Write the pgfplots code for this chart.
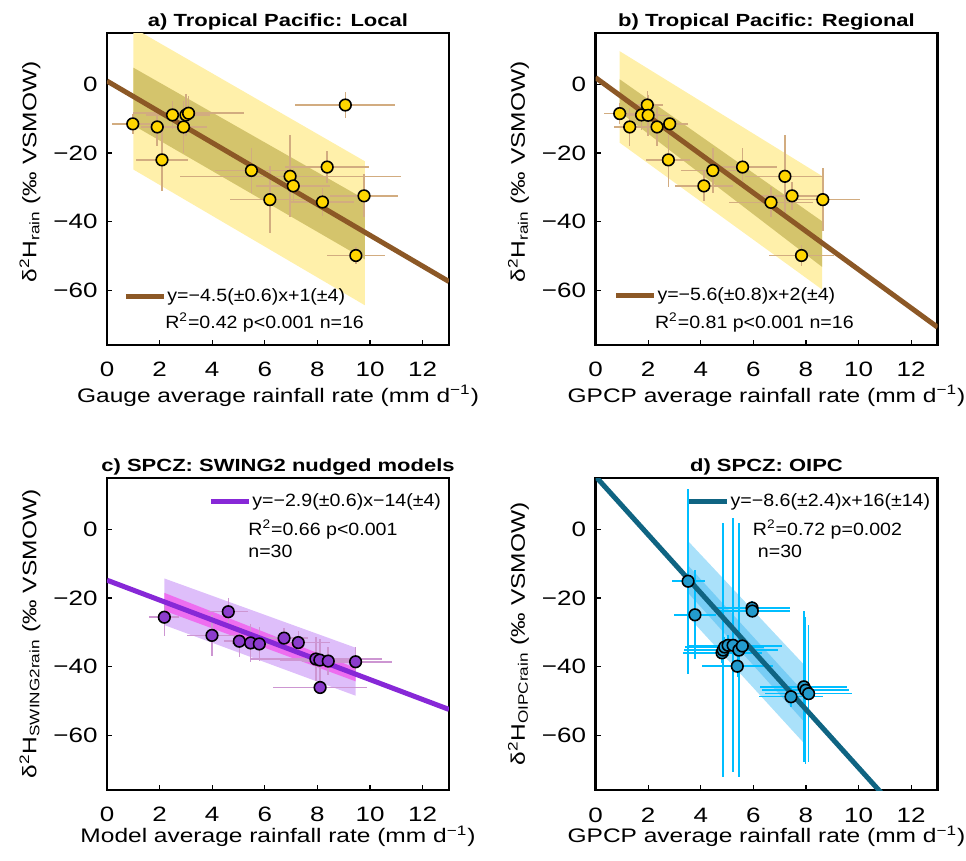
\documentclass[border=0pt]{standalone}
\usepackage{pgfplots}
\pgfplotsset{compat=1.18}
\usepackage{pgfplotstable}
\usepackage{fontspec}
\setmainfont{Liberation Sans}
\newfontfamily\wide[FakeStretch=1.25]{Liberation Sans}
\newfontfamily\wideleg[FakeStretch=1.1]{Liberation Sans}
\newcommand{\tickfont}{\wide\fontsize{10.4}{12}\selectfont}
\newcommand{\labfont}{\wide\fontsize{9.8}{12}\selectfont}
\newcommand{\titfont}{\wide\bfseries\fontsize{8.8}{11}\selectfont}
\newcommand{\legfont}{\wideleg\fontsize{8.9}{11}\selectfont}
\definecolor{brownline}{RGB}{140,88,38}
\definecolor{lightyel}{RGB}{255,240,170}
\definecolor{darkyel}{RGB}{212,196,108}
\definecolor{goldpt}{RGB}{255,214,0}
\definecolor{tanerr}{RGB}{210,172,128}
\definecolor{purpline}{RGB}{135,40,215}
\definecolor{purppt}{RGB}{140,60,205}
\definecolor{lavband}{RGB}{222,190,250}
\definecolor{magband}{RGB}{238,110,240}
\definecolor{purperr}{RGB}{205,150,210}
\definecolor{tealline}{RGB}{15,100,130}
\definecolor{bluept}{RGB}{35,155,205}
\definecolor{lightcyan}{RGB}{170,225,250}
\definecolor{midcyan}{RGB}{120,205,245}
\definecolor{cyanerr}{RGB}{0,190,255}

\pgfplotstableread{
x y ex ey
0.98 -11.5 0.8 3
1.91 -12.4 0.6 5.5
2.49 -8.9 1.0 4
3.00 -8.9 0.9 6
3.10 -8.4 2.1 5
2.91 -12.4 0.9 7.5
2.09 -22.0 1.0 9
9.06 -6.0 1.9 3.9
5.49 -25.1 1.4 6.5
6.96 -26.8 4.2 12
7.08 -29.6 1.4 5
8.37 -24.1 1.6 4.6
6.19 -33.6 1.5 9.7
8.19 -34.3 1.2 4
9.77 -32.5 1.3 6.3
9.46 -49.9 1.1 2.6
}\dataA
\pgfplotstableread{
x y ex ey
0.92 -8.5 0.6 3
1.30 -12.4 0.6 5.5
1.75 -8.9 0.7 4.5
1.97 -6.0 0.6 4
2.00 -9.0 0.8 6
2.34 -12.4 0.5 5.5
2.82 -11.5 0.7 2
2.77 -22.0 0.84 8
4.46 -25.1 1.2 6.5
4.12 -29.6 1.1 4.4
5.59 -24.1 1.3 5.6
7.20 -26.8 1.5 12
7.47 -32.5 1.3 4
6.67 -34.4 1.6 4.4
8.64 -33.6 1.4 9.2
7.83 -49.9 1.25 3
}\dataB
\pgfplotstableread{
x y ex ey
2.18 -25.6 0.57 5.4
4.61 -24.0 0.76 4.1
3.99 -30.9 0.95 5.9
5.03 -32.6 0.6 4.5
5.46 -33.1 0.7 5.5
5.79 -33.4 0.7 5.0
6.73 -31.7 0.9 3
7.27 -33.0 1.2 3.5
7.94 -37.8 2.5 6.4
8.09 -38.1 1.5 6
8.41 -38.4 1.0 4
9.45 -38.6 1.4 4.2
8.10 -46.1 1.8 2
}\dataC
\pgfplotstableread{
x y ex ey
3.52 -15.1 0.63 27
3.78 -24.9 0.8 13
5.95 -22.9 1.45 2
5.96 -23.8 1.45 2
4.81 -36.0 1.5 3
4.85 -35.2 1.5 37
4.91 -34.3 1.5 3
5.04 -33.8 1.5 3
5.23 -33.8 1.5 37
5.45 -35.2 1.5 37
5.58 -34.0 1.5 3
5.39 -39.9 1.35 3
7.43 -48.8 1.2 3
7.92 -45.9 1.65 22
7.99 -46.9 1.65 21.5
8.10 -47.9 1.65 20
}\dataD

\pgfplotsset{
 myaxis/.style={
  scale only axis, width=171pt, height=156pt,
  xmin=0, xmax=13, ymin=-76, ymax=15,
  axis line style={line width=1.3pt, line cap=rect},
  xtick={0,2,...,12}, ytick={-60,-40,-20,0},
  xticklabels={0,2,4,6,8,10,12},
  yticklabels={−60,−40,−20,0},
  tick align=inside, xtick pos=left, ytick pos=left,
  major tick length=2.5pt, tick style={line width=0.6pt, black},
  every tick label/.append style={font=\tickfont},
  xticklabel style={inner sep=0pt, anchor=base},
  yticklabel style={inner sep=0pt, anchor=east},
  xticklabel shift=16pt, yticklabel shift=4.5pt,
  every axis x label/.style={at={(axis description cs:0.5,-0.183)}, anchor=base, font=\labfont},
  every axis y label/.style={at={(axis description cs:-0.225,0.5)}, rotate=90, anchor=center, font=\labfont},
  title style={font=\titfont, at={(axis description cs:0.5,1)}, anchor=base, yshift=-2.5pt},
  legend style={draw=none, fill=none, inner sep=0pt, anchor=west, font=\legfont, nodes={inner sep=0.5pt}},
  legend image code/.code={\draw[##1] (0pt,0pt) -- (19pt,0pt);},
 },
 errs/.style={draw=none, mark=none, forget plot, error bars/.cd, x dir=both, x explicit, y dir=both, y explicit, error mark=none, error bar style={#1, line width=0.75pt}},
 pts/.style={only marks, mark=*, mark size=2.9pt, forget plot, mark options={fill=#1, draw=black, line width=0.8pt}},
}

\begin{document}
\begin{tikzpicture}
\path[use as bounding box] (0,0) rectangle (483pt,-430.5pt);

% a
\begin{axis}[myaxis, at={(53.5pt,-172.5pt)}, anchor=south west,
  title={a) Tropical Pacific: Local},
  xlabel={Gauge average rainfall rate (mm d\textsuperscript{−1})},
  ylabel={δ\textsuperscript{2}H\textsubscript{rain} (‰ VSMOW)},
  ylabel style={at={(axis description cs:-0.225,0.555)}},
  legend style={at={(axis cs:0.61,-61.8)}}]
\addplot[fill=lightyel, draw=none, forget plot] coordinates {(1,16.5) (9.8,-22.4) (9.8,-64.4) (1,-24.8)} -- cycle;
\addplot[fill=darkyel, draw=none, forget plot] coordinates {(1,4.9) (9.8,-33.5) (9.8,-51) (1,-11.9)} -- cycle;
\addplot[errs=tanerr] table[x=x,y=y,x error=ex,y error=ey] {\dataA};
\addplot[brownline, line width=2.5pt] coordinates {(0,1) (13,-57.5)};
\addlegendentry{y=−4.5(±0.6)x+1(±4)}
\addplot[pts=goldpt] table[x=x,y=y] {\dataA};
\node[anchor=west, font=\legfont, inner sep=0pt] at (axis cs:2.2,-69.4) {R\textsuperscript{2}=0.42 p<0.001 n=16};
\end{axis}

% b
\begin{axis}[myaxis, at={(297.75pt,-172.5pt)}, anchor=south west,
  title={b) Tropical Pacific: Regional},
  xlabel={GPCP average rainfall rate (mm d\textsuperscript{−1})},
  ylabel={δ\textsuperscript{2}H\textsubscript{rain} (‰ VSMOW)},
  ylabel style={at={(axis description cs:-0.225,0.555)}},
  legend style={at={(axis cs:0.67,-61.7)}}]
\addplot[fill=lightyel, draw=none, forget plot] coordinates {(0.92,9.7) (8.61,-26.7) (8.61,-59.8) (0.92,-17)} -- cycle;
\addplot[fill=darkyel, draw=none, forget plot] coordinates {(0.92,1.5) (8.61,-39.9) (8.61,-53.2) (0.92,-8)} -- cycle;
\addplot[errs=tanerr] table[x=x,y=y,x error=ex,y error=ey] {\dataB};
\addplot[brownline, line width=2.5pt] coordinates {(0,2) (13,-70.8)};
\addlegendentry{y=−5.6(±0.8)x+2(±4)}
\addplot[pts=goldpt] table[x=x,y=y] {\dataB};
\node[anchor=west, font=\legfont, inner sep=0pt] at (axis cs:2.25,-69.4) {R\textsuperscript{2}=0.81 p<0.001 n=16};
\end{axis}

% c
\begin{axis}[myaxis, at={(53.5pt,-395pt)}, anchor=south west,
  title={c) SPCZ: SWING2 nudged models},
  xlabel={Model average rainfall rate (mm d\textsuperscript{−1})},
  xlabel style={at={(axis description cs:0.5,-0.168)}},
  ylabel={δ\textsuperscript{2}H\textsubscript{SWING2rain} (‰ VSMOW)},
  legend style={at={(axis cs:3.84,8.2)}}]
\addplot[fill=lavband, draw=none, forget plot] coordinates {(2.18,-14.3) (9.45,-34.5) (9.45,-48.5) (2.18,-27.9)} -- cycle;
\addplot[fill=magband, draw=none, forget plot] coordinates {(2.18,-18.5) (9.45,-40.4) (9.45,-44.3) (2.18,-23.7)} -- cycle;
\addplot[errs=purperr] table[x=x,y=y,x error=ex,y error=ey] {\dataC};
\addplot[purpline, line width=2.5pt] coordinates {(0,-14.8) (13,-52.5)};
\addlegendentry{y=−2.9(±0.6)x−14(±4)}
\addplot[pts=purppt] table[x=x,y=y] {\dataC};
\node[anchor=west, font=\legfont, inner sep=0pt] at (axis cs:5.36,0) {R\textsuperscript{2}=0.66 p<0.001};
\node[anchor=west, font=\legfont, inner sep=0pt] at (axis cs:5.36,-6.4) {n=30};
\end{axis}

% d
\begin{axis}[myaxis, at={(297.75pt,-395pt)}, anchor=south west,
  title={d) SPCZ: OIPC},
  xlabel={GPCP average rainfall rate (mm d\textsuperscript{−1})},
  xlabel style={at={(axis description cs:0.5,-0.168)}},
  ylabel={δ\textsuperscript{2}H\textsubscript{OIPCrain} (‰ VSMOW)},
  legend style={at={(axis cs:3.45,8.2)}}]
\addplot[fill=lightcyan, draw=none, forget plot] coordinates {(3.52,-3.4) (7.92,-39.4) (7.92,-62.3) (3.52,-25.4)} -- cycle;
\addplot[fill=midcyan, draw=none, forget plot] coordinates {(3.52,-10.5) (7.92,-47.5) (7.92,-56) (3.52,-18.5)} -- cycle;
\addplot[errs=cyanerr] table[x=x,y=y,x error=ex,y error=ey] {\dataD};
\addplot[tealline, line width=2.5pt] coordinates {(0,15.5) (11,-78)};
\addlegendentry{y=−8.6(±2.4)x+16(±14)}
\addplot[pts=bluept] table[x=x,y=y] {\dataD};
\node[anchor=west, font=\legfont, inner sep=0pt] at (axis cs:5.97,0) {R\textsuperscript{2}=0.72 p=0.002};
\node[anchor=west, font=\legfont, inner sep=0pt] at (axis cs:6.16,-6.4) {n=30};
\end{axis}
\end{tikzpicture}
\end{document}
